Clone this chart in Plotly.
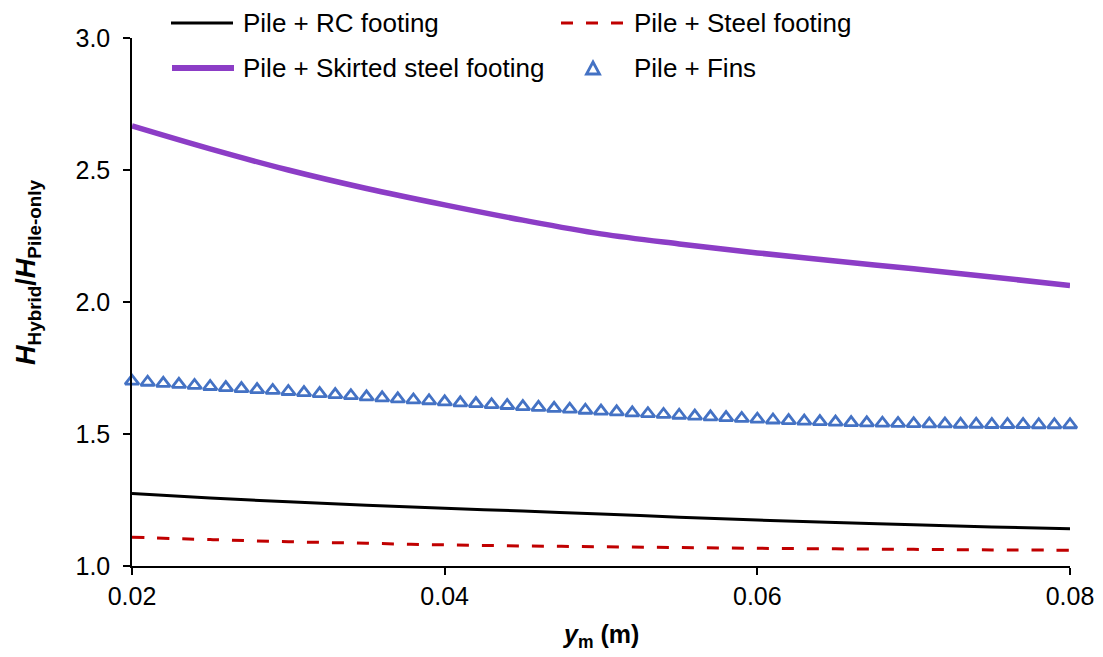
import plotly.graph_objects as go

# ---------------- data ----------------
ym_lines = [0.020, 0.025, 0.030, 0.035, 0.040, 0.045, 0.050,
            0.055, 0.060, 0.065, 0.070, 0.075, 0.080]

rc_footing = [1.275, 1.258, 1.243, 1.230, 1.219, 1.208, 1.197,
              1.185, 1.174, 1.165, 1.156, 1.148, 1.141]

steel_footing = [1.109, 1.100, 1.092, 1.086, 1.080, 1.076, 1.073,
                 1.070, 1.067, 1.065, 1.063, 1.061, 1.060]

skirted_footing = [2.667, 2.580, 2.500, 2.430, 2.368, 2.310, 2.258,
                   2.220, 2.186, 2.155, 2.126, 2.095, 2.062]

ym_fins = [round(0.020 + 0.001 * i, 3) for i in range(61)]
fins = [1.700, 1.696, 1.692, 1.688, 1.684, 1.680, 1.676, 1.672, 1.668, 1.665,
        1.661, 1.657, 1.653, 1.649, 1.645, 1.641, 1.637, 1.633, 1.629, 1.626,
        1.622, 1.618, 1.615, 1.611, 1.608, 1.604, 1.601, 1.597, 1.594, 1.590,
        1.587, 1.584, 1.580, 1.577, 1.574, 1.571, 1.568, 1.565, 1.562, 1.559,
        1.556, 1.553, 1.551, 1.549, 1.547, 1.545, 1.543, 1.542, 1.541, 1.540,
        1.539, 1.538, 1.538, 1.537, 1.537, 1.536, 1.536, 1.536, 1.535, 1.535,
        1.535]

series_names = ["Pile + RC footing", "Pile + Steel footing",
                "Pile + Skirted steel footing", "Pile + Fins"]

x_ticks = [0.02, 0.04, 0.06, 0.08]
y_ticks = [1.0, 1.5, 2.0, 2.5, 3.0]

# ---------------- styling ----------------
FONT = "Arial, Liberation Sans, sans-serif"
C_RC = "#000000"
C_STEEL = "#C00000"
C_SKIRT = "#8C3DC6"
C_FINS = "#4472C4"

W, H = 1103, 657
ML, MR, MT, MB = 132, 33, 38, 91
PW, PH = W - ML - MR, H - MT - MB


def px(x):
    return (x - ML) / PW


def py(y):
    return (H - MB - y) / PH


fig = go.Figure()
fig.add_trace(go.Scatter(x=ym_lines, y=rc_footing, mode="lines", name=series_names[0],
                         line=dict(color=C_RC, width=3, shape="spline"), showlegend=False))
fig.add_trace(go.Scatter(x=ym_lines, y=steel_footing, mode="lines", name=series_names[1],
                         line=dict(color=C_STEEL, width=3, dash="12px,13px", shape="spline"),
                         showlegend=False))
fig.add_trace(go.Scatter(x=ym_lines, y=skirted_footing, mode="lines", name=series_names[2],
                         line=dict(color=C_SKIRT, width=5.5, shape="spline"), showlegend=False))
fig.add_trace(go.Scatter(x=ym_fins, y=fins, mode="markers", name=series_names[3],
                         marker=dict(symbol="triangle-up-open", size=12, color=C_FINS,
                                     line=dict(width=2.8, color=C_FINS)),
                         cliponaxis=False, showlegend=False))

# ---------------- manual legend ----------------
shapes = []
annotations = []
legend_font = dict(family=FONT, size=26, color="#000000")

shapes.append(dict(type="line", xref="paper", yref="paper",
                   x0=px(171), x1=px(233), y0=py(23), y1=py(23),
                   line=dict(color=C_RC, width=3)))
shapes.append(dict(type="line", xref="paper", yref="paper",
                   x0=px(561), x1=px(625), y0=py(23), y1=py(23),
                   line=dict(color=C_STEEL, width=3, dash="12px,13px")))
shapes.append(dict(type="line", xref="paper", yref="paper",
                   x0=px(172), x1=px(234), y0=py(68), y1=py(68),
                   line=dict(color=C_SKIRT, width=6)))
tri = "M {},{} L {},{} L {},{} Z".format(px(586.5), py(74), px(599.5), py(74), px(593), py(62))
shapes.append(dict(type="path", xref="paper", yref="paper", path=tri,
                   line=dict(color=C_FINS, width=2.8), fillcolor="rgba(0,0,0,0)"))

for name, (lx, ly) in zip(series_names, [(241, 23), (632, 23), (241, 68), (632, 68)]):
    annotations.append(dict(text=name, xref="paper", yref="paper", x=px(lx), y=py(ly),
                            xanchor="left", yanchor="middle", showarrow=False,
                            font=legend_font))

# axis titles
annotations.append(dict(text="<b><i>H</i><sub>Hybrid</sub>/<i>H</i><sub>Pile-only</sub></b>",
                        xref="paper", yref="paper", x=px(28), y=py(272),
                        xanchor="center", yanchor="middle", textangle=-90, showarrow=False,
                        font=dict(family=FONT, size=27, color="#000000")))
annotations.append(dict(text="<b><i>y</i><sub>m</sub> (m)</b>",
                        xref="paper", yref="paper", x=px(600), y=py(636),
                        xanchor="center", yanchor="middle", showarrow=False,
                        font=dict(family=FONT, size=25, color="#000000")))

axis_common = dict(showgrid=False, zeroline=False, showline=True, linecolor="#000000",
                   linewidth=1.5, ticks="outside", ticklen=7, tickwidth=1.5,
                   tickcolor="#000000", tickfont=dict(family=FONT, size=25, color="#000000"))

fig.update_layout(
    width=W, height=H,
    margin=dict(l=ML, r=MR, t=MT, b=MB, autoexpand=False),
    paper_bgcolor="white", plot_bgcolor="white",
    showlegend=False,
    xaxis=dict(range=[0.02, 0.08], tickvals=x_ticks, tickformat=".2f", **axis_common),
    yaxis=dict(range=[1.0, 3.0], tickvals=y_ticks, tickformat=".1f",
               ticklabelstandoff=8, **axis_common),
    shapes=shapes, annotations=annotations,
)

fig.write_html("out.html")
